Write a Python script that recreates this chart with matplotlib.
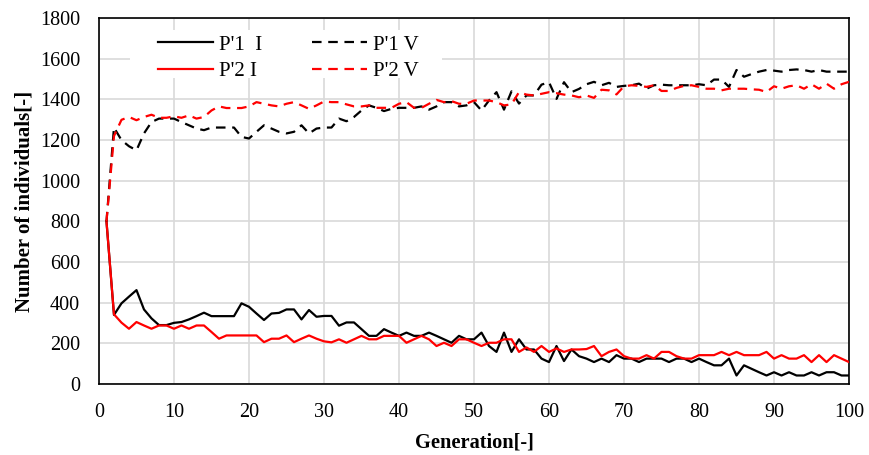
import matplotlib
matplotlib.use("Agg")
import matplotlib.pyplot as plt
from matplotlib.patches import Rectangle
import numpy as np

plt.rcParams['font.family'] = ['Liberation Serif', 'DejaVu Serif']

generation = np.arange(1, 101)

p1_I = [800, 340, 397, 430, 462, 367, 323, 290, 290, 301,
        305, 318, 334, 351, 334, 334, 334, 334, 397, 380,
        347, 315, 347, 350, 367, 367, 318, 364, 331, 335,
        335, 287, 303, 303, 270, 237, 237, 270, 253, 237,
        253, 237, 237, 253, 237, 220, 203, 237, 220, 220,
        253, 187, 158, 253, 158, 220, 170, 170, 125, 108,
        187, 113, 170, 137, 125, 108, 125, 108, 142, 125,
        125, 108, 125, 125, 125, 108, 125, 125, 108, 125,
        108, 92, 92, 125, 42, 92, 75, 58, 42, 58,
        42, 58, 42, 42, 58, 42, 58, 58, 42, 42]

p2_I = [800, 343, 302, 272, 305, 288, 272, 288, 288, 272,
        288, 272, 288, 288, 256, 223, 239, 239, 239, 239,
        239, 206, 223, 223, 239, 206, 223, 239, 223, 210,
        205, 220, 203, 220, 237, 220, 220, 237, 237, 237,
        203, 220, 237, 220, 187, 203, 187, 220, 220, 203,
        187, 203, 203, 220, 220, 158, 180, 158, 187, 158,
        175, 158, 170, 170, 172, 187, 137, 158, 170, 137,
        125, 125, 142, 125, 158, 158, 137, 125, 125, 142,
        142, 142, 158, 142, 158, 142, 142, 142, 158, 125,
        142, 125, 125, 142, 108, 142, 108, 142, 125, 108]

p1_V = [800, 1262, 1200, 1170, 1150, 1233, 1289, 1306, 1306, 1306,
        1289, 1273, 1257, 1249, 1262, 1262, 1262, 1262, 1216, 1208,
        1241, 1273, 1257, 1241, 1233, 1241, 1273, 1233, 1257, 1262,
        1262, 1306, 1293, 1314, 1346, 1371, 1359, 1343, 1354, 1359,
        1359, 1359, 1366, 1350, 1366, 1387, 1387, 1366, 1371, 1387,
        1346, 1395, 1436, 1350, 1440, 1380, 1420, 1420, 1473, 1485,
        1403, 1485, 1436, 1452, 1475, 1487, 1470, 1482, 1462, 1467,
        1470, 1478, 1453, 1470, 1473, 1470, 1470, 1470, 1470, 1475,
        1470, 1498, 1498, 1462, 1545, 1512, 1525, 1537, 1545, 1542,
        1537, 1545, 1548, 1545, 1537, 1545, 1537, 1537, 1537, 1537]

p2_V = [800, 1220, 1300, 1314, 1298, 1314, 1325, 1310, 1310, 1317,
        1310, 1322, 1306, 1314, 1346, 1366, 1358, 1358, 1358, 1366,
        1387, 1379, 1371, 1366, 1379, 1387, 1371, 1354, 1371, 1390,
        1387, 1387, 1376, 1366, 1366, 1371, 1359, 1359, 1359, 1379,
        1387, 1359, 1359, 1379, 1398, 1387, 1392, 1379, 1379, 1395,
        1395, 1395, 1387, 1371, 1376, 1436, 1424, 1420, 1428, 1436,
        1431, 1424, 1420, 1411, 1420, 1408, 1448, 1445, 1425, 1465,
        1470, 1467, 1462, 1470, 1442, 1442, 1457, 1467, 1470, 1462,
        1453, 1453, 1445, 1453, 1453, 1453, 1450, 1448, 1437, 1465,
        1453, 1465, 1470, 1453, 1475, 1453, 1478, 1453, 1475, 1487]

x_ticks = np.arange(0, 101, 10)
y_ticks = np.arange(0, 1801, 200)

fig = plt.figure(figsize=(8.69, 4.55), dpi=100)
ax = fig.add_axes([0.1139, 0.156, 0.977 - 0.1139, 0.960 - 0.156])

lw = 1.6
dash = (0, (4.3, 3.0))
ax.plot(generation, p1_I, color='black', lw=lw, label="P'1  I", zorder=3)
ax.plot(generation, p2_I, color='#ff0000', lw=lw, label="P'2 I", zorder=3)
ax.plot(generation, p1_V, color='black', lw=lw, ls=dash, label="P'1 V", zorder=3)
ax.plot(generation, p2_V, color='#ff0000', lw=lw, ls=dash, label="P'2 V", zorder=3)

ax.set_xlim(0, 100)
ax.set_ylim(0, 1800)
ax.set_xticks(x_ticks)
ax.set_yticks(y_ticks)
ax.tick_params(length=0, labelsize=14.5, pad=13.5)
ax.grid(True, color='#d9d9d9', lw=1.2, zorder=0)
ax.set_axisbelow(True)
for s in ax.spines.values():
    s.set_color('black')
    s.set_linewidth(1.2)

ax.set_xlabel('Generation[-]', fontsize=14.7, fontweight='bold', labelpad=8)
ax.set_ylabel('Number of individuals[-]', fontsize=15, fontweight='bold', labelpad=4)

# white backing area behind the legend
ax.add_patch(Rectangle((0.041, 0.836), 0.416, 0.131, transform=ax.transAxes,
                       facecolor='white', edgecolor='none', zorder=1))

leg = ax.legend(ncol=2, loc='upper left', bbox_to_anchor=(0.0787, 0.954),
                frameon=False, fontsize=15, handlelength=2.64, columnspacing=2.4,
                handletextpad=0.29, labelspacing=0.33, borderpad=0.0,
                borderaxespad=0.0)
leg.set_zorder(4)

fig.savefig('out.png', dpi=100)
